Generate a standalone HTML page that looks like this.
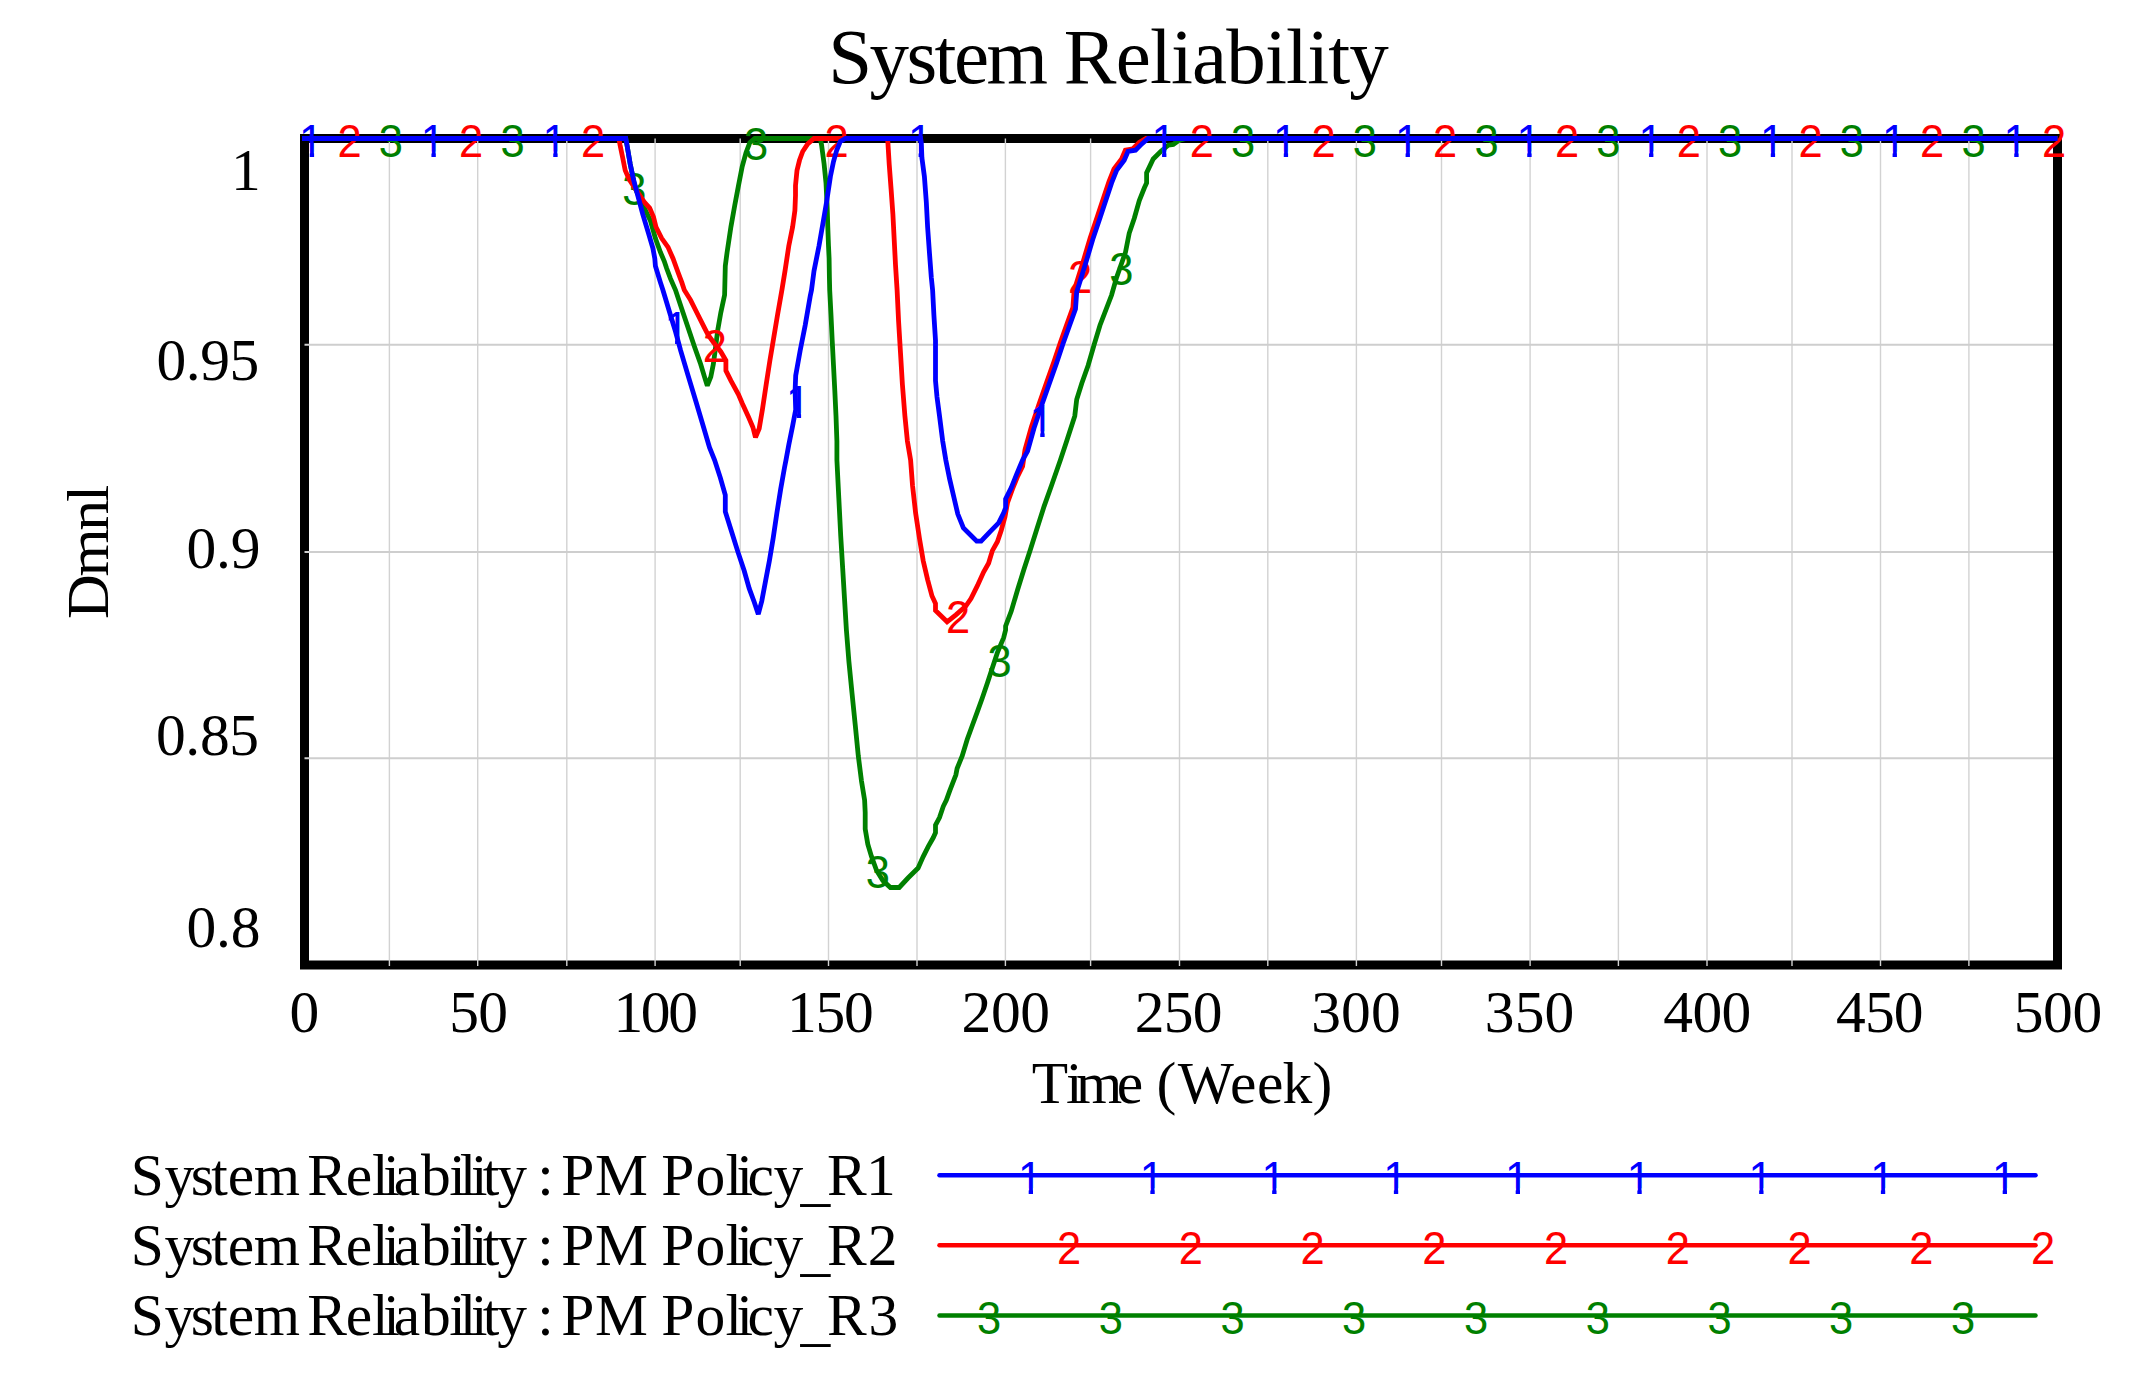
<!DOCTYPE html>
<html lang="en"><head><meta charset="utf-8"><title>System Reliability</title>
<style>html,body{margin:0;padding:0;background:#fff}svg{display:block}.s{font-family:"Liberation Serif",serif;fill:#000}.m{font-family:"Liberation Sans",sans-serif;font-size:45.8px;text-anchor:middle}.c{fill:none;stroke-width:4.8;stroke-linejoin:miter;stroke-miterlimit:1.5;stroke-linecap:butt}</style></head><body>
<svg width="2146" height="1390" viewBox="0 0 2146 1390">
<rect width="2146" height="1390" fill="#fff"/>
<rect x="304.5" y="138.5" width="1753.0" height="826.5" fill="none" stroke="#000" stroke-width="9" stroke-linejoin="miter"/>
<g stroke="#d2d2d2" stroke-width="1.4">
<line x1="389.4" y1="138.5" x2="389.4" y2="966.0"/>
<line x1="477.7" y1="138.5" x2="477.7" y2="966.0"/>
<line x1="566.8" y1="138.5" x2="566.8" y2="966.0"/>
<line x1="655.1" y1="138.5" x2="655.1" y2="966.0"/>
<line x1="740.2" y1="138.5" x2="740.2" y2="966.0"/>
<line x1="828.5" y1="138.5" x2="828.5" y2="966.0"/>
<line x1="917.0" y1="138.5" x2="917.0" y2="966.0"/>
<line x1="1005.4" y1="138.5" x2="1005.4" y2="966.0"/>
<line x1="1090.6" y1="138.5" x2="1090.6" y2="966.0"/>
<line x1="1179.5" y1="138.5" x2="1179.5" y2="966.0"/>
<line x1="1267.8" y1="138.5" x2="1267.8" y2="966.0"/>
<line x1="1356.4" y1="138.5" x2="1356.4" y2="966.0"/>
<line x1="1441.5" y1="138.5" x2="1441.5" y2="966.0"/>
<line x1="1530.1" y1="138.5" x2="1530.1" y2="966.0"/>
<line x1="1618.4" y1="138.5" x2="1618.4" y2="966.0"/>
<line x1="1707.0" y1="138.5" x2="1707.0" y2="966.0"/>
<line x1="1792.0" y1="138.5" x2="1792.0" y2="966.0"/>
<line x1="1880.5" y1="138.5" x2="1880.5" y2="966.0"/>
<line x1="1968.9" y1="138.5" x2="1968.9" y2="966.0"/>
</g>
<g stroke="#cecece" stroke-width="2">
<line x1="304.5" y1="344.7" x2="2053.0" y2="344.7"/>
<line x1="304.5" y1="552.0" x2="2053.0" y2="552.0"/>
<line x1="304.5" y1="758.2" x2="2053.0" y2="758.2"/>
</g>
<text class="s" x="828.20" y="83.0" font-size="79" textLength="219.68" lengthAdjust="spacing">System</text>
<text class="s" x="1063.80" y="83.0" font-size="79" textLength="325.07" lengthAdjust="spacing">Reliability</text>
<text class="s" x="289.60" y="1032.4" font-size="59.5">0</text>
<text class="s" x="449.30" y="1032.4" font-size="59.5" textLength="58.67" lengthAdjust="spacing">50</text>
<text class="s" x="613.40" y="1032.4" font-size="59.5" textLength="84.56" lengthAdjust="spacing">100</text>
<text class="s" x="787.00" y="1032.4" font-size="59.5" textLength="86.79" lengthAdjust="spacing">150</text>
<text class="s" x="961.60" y="1032.4" font-size="59.5" textLength="88.49" lengthAdjust="spacing">200</text>
<text class="s" x="1134.70" y="1032.4" font-size="59.5" textLength="87.68" lengthAdjust="spacing">250</text>
<text class="s" x="1311.20" y="1032.4" font-size="59.5" textLength="89.49" lengthAdjust="spacing">300</text>
<text class="s" x="1484.80" y="1032.4" font-size="59.5" textLength="89.49" lengthAdjust="spacing">350</text>
<text class="s" x="1663.30" y="1032.4" font-size="59.5" textLength="87.90" lengthAdjust="spacing">400</text>
<text class="s" x="1836.00" y="1032.4" font-size="59.5" textLength="87.50" lengthAdjust="spacing">450</text>
<text class="s" x="2013.70" y="1032.4" font-size="59.5" textLength="88.48" lengthAdjust="spacing">500</text>
<text class="s" x="231.00" y="190.3" font-size="59.5">1</text>
<text class="s" x="156.50" y="379.5" font-size="59.5" textLength="102.78" lengthAdjust="spacing">0.95</text>
<text class="s" x="186.50" y="567.5" font-size="59.5" textLength="74.00" lengthAdjust="spacing">0.9</text>
<text class="s" x="155.90" y="754.5" font-size="59.5" textLength="103.19" lengthAdjust="spacing">0.85</text>
<text class="s" x="186.50" y="947.1" font-size="59.5" textLength="74.00" lengthAdjust="spacing">0.8</text>
<text class="s" font-size="59.5" x="130.7 164.4 190.7 211.3 227.8 253.7 299.9 307.2 345.8 372.0 383.3 393.7 421.1 449.3 459.8 471.1 482.8 497.3 527.0 537.2 553.7 561.3 595.1 648.0 661.2 695.6 725.6 736.4 747.6 773.4 800.5 827.1 866.0" y="1195.0 1195.0 1195.0 1195.0 1195.0 1195.0 1195.0 1195.0 1195.0 1195.0 1195.0 1195.0 1195.0 1195.0 1195.0 1195.0 1195.0 1195.0 1195.0 1195.0 1195.0 1195.0 1195.0 1195.0 1195.0 1195.0 1195.0 1195.0 1195.0 1195.0 1199.0 1195.0 1195.0">System Reliability : PM Policy_R1</text>
<text class="s" font-size="59.5" x="130.7 164.4 190.7 211.3 227.8 253.7 299.9 307.2 345.8 372.0 383.3 393.7 421.1 449.3 459.8 471.1 482.8 497.3 527.0 537.2 553.7 561.3 595.1 648.0 661.2 695.6 725.6 736.4 747.6 773.4 800.5 827.1 867.7" y="1265.0 1265.0 1265.0 1265.0 1265.0 1265.0 1265.0 1265.0 1265.0 1265.0 1265.0 1265.0 1265.0 1265.0 1265.0 1265.0 1265.0 1265.0 1265.0 1265.0 1265.0 1265.0 1265.0 1265.0 1265.0 1265.0 1265.0 1265.0 1265.0 1265.0 1269.0 1265.0 1265.0">System Reliability : PM Policy_R2</text>
<text class="s" font-size="59.5" x="130.7 164.4 190.7 211.3 227.8 253.7 299.9 307.2 345.8 372.0 383.3 393.7 421.1 449.3 459.8 471.1 482.8 497.3 527.0 537.2 553.7 561.3 595.1 648.0 661.2 695.6 725.6 736.4 747.6 773.4 800.5 827.1 868.5" y="1335.0 1335.0 1335.0 1335.0 1335.0 1335.0 1335.0 1335.0 1335.0 1335.0 1335.0 1335.0 1335.0 1335.0 1335.0 1335.0 1335.0 1335.0 1335.0 1335.0 1335.0 1335.0 1335.0 1335.0 1335.0 1335.0 1335.0 1335.0 1335.0 1335.0 1339.0 1335.0 1335.0">System Reliability : PM Policy_R3</text>
<text class="s" font-size="59.5" x="1031.7 1065.9 1076.0 1116.8 1143.2 1156.4 1177.7 1230.0 1256.9 1282.4 1312.6" y="1102.9">Time (Week)</text>
<text class="s" font-size="59.5" textLength="129.08" lengthAdjust="spacing" transform="translate(107.8,619.0) rotate(-90) scale(1.04,1)">Dmnl</text>
<defs><clipPath id="k1"><path d="M-20,-40H20V-5.50H3.07V2H-1.51V-5.50H-20Z"/></clipPath></defs>
<path class="c" stroke="#008000" d="M304.5,138.5 L625.8,138.5 L627.0,145.2 L630.2,164.0 L633.4,179.2 L634.6,187.0 L642.0,203.0 L650.4,220.7 L655.4,238.3 L660.4,252.2 L664.2,261.0 L666.7,268.5 L670.5,278.6 L675.5,290.0 L681.8,308.9 L688.1,327.8 L694.4,346.6 L700.7,364.3 L704.5,376.9 L707.3,385.7 L710.8,376.9 L713.3,364.3 L715.2,350.4 L717.7,330.3 L720.8,312.7 L724.6,295.0 L725.3,266.0 L727.1,252.2 L730.9,227.0 L734.7,205.6 L738.5,185.5 L742.2,166.6 L746.0,152.7 L749.8,142.7 L754.8,138.5 L820.3,138.5 L821.6,145.2 L824.1,164.0 L826.0,182.9 L827.2,208.1 L827.8,227.0 L828.5,245.9 L829.1,258.5 L829.4,277.4 L829.7,290.0 L831.0,315.2 L832.2,340.4 L833.5,365.5 L834.8,390.7 L836.0,415.9 L836.9,441.1 L836.9,460.0 L838.8,497.8 L840.7,535.5 L842.6,567.0 L844.5,598.5 L846.4,630.0 L848.9,661.5 L852.0,692.9 L855.2,724.4 L858.3,755.9 L861.5,781.1 L864.6,800.0 L865.2,812.6 L865.2,829.0 L867.8,844.1 L871.5,856.6 L876.6,870.5 L882.9,880.6 L890.4,887.5 L899.2,887.5 L908.0,878.0 L918.1,868.0 L923.2,856.6 L928.2,846.6 L933.2,837.8 L935.5,832.7 L935.5,825.2 L939.5,817.6 L943.3,806.3 L946.4,800.0 L949.6,791.1 L955.9,774.8 L957.1,768.5 L962.2,755.9 L967.2,739.5 L972.2,725.7 L977.3,711.8 L982.3,698.0 L987.4,682.9 L992.4,667.8 L997.4,652.7 L1003.7,637.6 L1005.6,630.0 L1005.6,626.2 L1011.3,611.1 L1017.6,589.7 L1023.9,569.5 L1030.1,550.6 L1036.4,530.5 L1044.0,506.6 L1051.6,485.2 L1060.4,460.0 L1066.7,441.1 L1074.8,415.9 L1076.7,399.5 L1081.8,383.2 L1088.1,365.5 L1094.3,344.1 L1100.0,325.2 L1111.6,295.0 L1116.6,277.4 L1125.5,252.2 L1129.2,233.3 L1134.3,218.2 L1139.3,200.6 L1144.3,188.0 L1146.6,182.9 L1146.6,172.9 L1153.2,159.0 L1160.7,151.5 L1168.3,145.2 L1173.3,144.5 L1178.3,140.8 L1185.9,138.5 L2057.5,138.5"/>
<g class="m" fill="#008000">
<g transform="translate(390.8,156.9) scale(0.95,1)"><text>3</text></g>
<g transform="translate(512.5,156.9) scale(0.95,1)"><text>3</text></g>
<g transform="translate(634.3,204.5) scale(0.95,1)"><text>3</text></g>
<g transform="translate(756.0,159.8) scale(0.95,1)"><text>3</text></g>
<g transform="translate(877.8,887.6) scale(0.95,1)"><text>3</text></g>
<g transform="translate(999.5,676.8) scale(0.95,1)"><text>3</text></g>
<g transform="translate(1121.3,285.1) scale(0.95,1)"><text>3</text></g>
<g transform="translate(1243.0,156.9) scale(0.95,1)"><text>3</text></g>
<g transform="translate(1364.8,156.9) scale(0.95,1)"><text>3</text></g>
<g transform="translate(1486.5,156.9) scale(0.95,1)"><text>3</text></g>
<g transform="translate(1608.3,156.9) scale(0.95,1)"><text>3</text></g>
<g transform="translate(1730.0,156.9) scale(0.95,1)"><text>3</text></g>
<g transform="translate(1851.8,156.9) scale(0.95,1)"><text>3</text></g>
<g transform="translate(1973.5,156.9) scale(0.95,1)"><text>3</text></g>
</g>
<path class="c" stroke="#ff0000" d="M304.5,138.5 L618.9,138.5 L620.1,145.2 L622.7,157.8 L625.2,170.4 L629.0,179.2 L634.6,187.6 L644.1,201.8 L649.7,208.1 L653.5,216.9 L656.0,227.0 L661.7,238.3 L668.0,247.1 L673.0,258.5 L678.0,272.3 L681.8,282.4 L684.3,290.0 L690.6,300.1 L696.9,312.7 L704.5,327.8 L708.3,335.3 L714.0,343.0 L720.8,351.7 L725.9,360.5 L725.9,370.6 L730.9,380.6 L738.5,394.5 L742.2,403.3 L748.5,417.1 L752.9,427.2 L755.5,437.3 L759.2,428.5 L762.4,409.6 L766.2,384.4 L769.9,360.5 L773.7,337.8 L777.5,315.2 L781.9,290.0 L785.0,271.0 L788.8,245.9 L792.6,227.0 L794.9,210.6 L795.5,195.5 L795.5,185.5 L797.0,170.4 L799.5,160.3 L802.7,151.5 L807.7,143.9 L814.0,138.5 L887.5,138.5 L887.9,142.7 L889.2,164.1 L891.1,189.2 L892.9,214.4 L894.2,239.6 L895.5,264.8 L897.1,290.0 L898.6,321.5 L900.5,352.9 L902.4,384.4 L904.9,415.9 L907.4,441.1 L910.6,460.0 L912.5,485.2 L915.6,512.9 L919.4,538.0 L923.2,560.7 L927.6,579.6 L932.0,596.0 L935.5,603.5 L935.5,610.4 L947.1,621.8 L955.9,614.8 L965.9,606.0 L971.0,598.5 L977.3,585.9 L983.6,572.0 L988.6,563.2 L992.4,550.6 L997.4,541.8 L1001.2,530.5 L1005.0,516.6 L1007.5,502.8 L1012.5,488.9 L1017.6,476.4 L1022.6,466.3 L1025.0,449.7 L1031.3,427.1 L1038.9,404.4 L1046.4,383.0 L1054.0,361.6 L1060.3,342.7 L1066.6,325.1 L1072.9,307.6 L1074.1,290.6 L1082.6,263.4 L1090.1,238.2 L1097.7,215.5 L1104.0,196.6 L1109.0,181.5 L1114.0,169.0 L1121.6,158.9 L1125.4,150.1 L1132.9,148.8 L1139.2,142.5 L1146.0,138.5 L2057.5,138.5"/>
<g class="m" fill="#ff0000">
<g transform="translate(349.5,156.9) scale(0.95,1)"><text>2</text></g>
<g transform="translate(471.2,156.9) scale(0.95,1)"><text>2</text></g>
<g transform="translate(593.0,156.9) scale(0.95,1)"><text>2</text></g>
<g transform="translate(714.8,362.4) scale(0.95,1)"><text>2</text></g>
<g transform="translate(836.5,156.9) scale(0.95,1)"><text>2</text></g>
<g transform="translate(958.2,633.1) scale(0.95,1)"><text>2</text></g>
<g transform="translate(1080.0,292.5) scale(0.95,1)"><text>2</text></g>
<g transform="translate(1201.8,156.9) scale(0.95,1)"><text>2</text></g>
<g transform="translate(1323.5,156.9) scale(0.95,1)"><text>2</text></g>
<g transform="translate(1445.2,156.9) scale(0.95,1)"><text>2</text></g>
<g transform="translate(1567.0,156.9) scale(0.95,1)"><text>2</text></g>
<g transform="translate(1688.8,156.9) scale(0.95,1)"><text>2</text></g>
<g transform="translate(1810.5,156.9) scale(0.95,1)"><text>2</text></g>
<g transform="translate(1932.2,156.9) scale(0.95,1)"><text>2</text></g>
<g transform="translate(2054.0,156.9) scale(0.95,1)"><text>2</text></g>
</g>
<path class="c" stroke="#0000ff" d="M302.0,138.5 L625.8,138.5 L627.0,145.2 L630.2,164.0 L633.4,179.2 L637.8,195.5 L642.8,214.4 L648.5,233.3 L652.9,248.4 L654.8,258.5 L655.4,266.0 L660.4,282.4 L662.9,290.0 L670.5,315.2 L675.5,331.5 L680.6,350.4 L688.1,375.6 L695.7,400.8 L703.2,426.0 L709.5,447.4 L714.6,460.0 L720.3,477.6 L725.3,495.2 L725.3,511.6 L731.6,531.8 L737.9,551.9 L744.2,570.8 L749.2,588.4 L754.3,602.2 L758.3,614.2 L761.8,601.0 L765.6,580.8 L769.4,560.7 L773.2,538.0 L776.9,512.9 L780.7,489.0 L784.5,467.6 L786.0,460.0 L788.8,444.8 L792.6,426.0 L795.7,409.6 L795.1,390.7 L795.7,375.6 L800.2,350.4 L805.2,325.2 L810.2,296.3 L811.5,290.0 L814.0,271.0 L819.0,245.9 L823.4,220.7 L826.6,201.8 L830.4,176.6 L833.5,161.5 L836.7,150.2 L840.4,141.4 L845.5,138.5 L920.6,138.5 L921.3,142.7 L921.9,157.8 L924.4,176.6 L926.3,201.8 L927.6,227.0 L929.4,252.2 L931.3,277.4 L932.6,290.0 L933.9,315.2 L935.5,340.4 L935.5,380.6 L937.0,397.0 L939.5,415.9 L942.7,441.1 L945.8,460.0 L949.6,478.9 L954.0,497.8 L957.8,514.1 L963.4,528.0 L971.0,535.5 L976.7,541.2 L981.1,541.2 L989.9,531.8 L998.7,522.9 L1003.7,512.9 L1005.6,507.8 L1005.6,499.0 L1011.3,487.7 L1016.3,475.1 L1022.6,460.0 L1027.6,451.1 L1033.9,428.5 L1041.5,405.8 L1049.0,384.4 L1056.6,363.0 L1062.9,344.1 L1069.2,326.5 L1075.5,309.0 L1076.7,292.0 L1085.2,264.8 L1092.7,239.6 L1100.3,216.9 L1106.6,198.0 L1111.6,182.9 L1116.6,170.4 L1124.2,160.3 L1128.0,151.5 L1135.5,150.2 L1141.8,143.9 L1148.1,138.5 L2057.5,138.5"/>
<g class="m" fill="#0000ff">
<g transform="translate(311.2,156.9) scale(0.95,1)" clip-path="url(#k1)"><text>1</text></g>
<g transform="translate(432.9,156.9) scale(0.95,1)" clip-path="url(#k1)"><text>1</text></g>
<g transform="translate(554.7,156.9) scale(0.95,1)" clip-path="url(#k1)"><text>1</text></g>
<g transform="translate(676.5,344.1) scale(0.95,1)" clip-path="url(#k1)"><text>1</text></g>
<g transform="translate(798.2,418.4) scale(0.95,1)" clip-path="url(#k1)"><text>1</text></g>
<g transform="translate(920.0,156.9) scale(0.95,1)" clip-path="url(#k1)"><text>1</text></g>
<g transform="translate(1041.7,436.7) scale(0.95,1)" clip-path="url(#k1)"><text>1</text></g>
<g transform="translate(1163.5,156.9) scale(0.95,1)" clip-path="url(#k1)"><text>1</text></g>
<g transform="translate(1285.2,156.9) scale(0.95,1)" clip-path="url(#k1)"><text>1</text></g>
<g transform="translate(1407.0,156.9) scale(0.95,1)" clip-path="url(#k1)"><text>1</text></g>
<g transform="translate(1528.7,156.9) scale(0.95,1)" clip-path="url(#k1)"><text>1</text></g>
<g transform="translate(1650.5,156.9) scale(0.95,1)" clip-path="url(#k1)"><text>1</text></g>
<g transform="translate(1772.2,156.9) scale(0.95,1)" clip-path="url(#k1)"><text>1</text></g>
<g transform="translate(1894.0,156.9) scale(0.95,1)" clip-path="url(#k1)"><text>1</text></g>
<g transform="translate(2015.7,156.9) scale(0.95,1)" clip-path="url(#k1)"><text>1</text></g>
</g>
<line x1="939.5" y1="1175.3" x2="2035.5" y2="1175.3" stroke="#0000ff" stroke-width="4.5" stroke-linecap="round"/>
<g class="m" fill="#0000ff">
<g transform="translate(1030.1,1193.7) scale(0.95,1)" clip-path="url(#k1)"><text>1</text></g>
<g transform="translate(1151.8,1193.7) scale(0.95,1)" clip-path="url(#k1)"><text>1</text></g>
<g transform="translate(1273.6,1193.7) scale(0.95,1)" clip-path="url(#k1)"><text>1</text></g>
<g transform="translate(1395.3,1193.7) scale(0.95,1)" clip-path="url(#k1)"><text>1</text></g>
<g transform="translate(1517.1,1193.7) scale(0.95,1)" clip-path="url(#k1)"><text>1</text></g>
<g transform="translate(1638.8,1193.7) scale(0.95,1)" clip-path="url(#k1)"><text>1</text></g>
<g transform="translate(1760.6,1193.7) scale(0.95,1)" clip-path="url(#k1)"><text>1</text></g>
<g transform="translate(1882.3,1193.7) scale(0.95,1)" clip-path="url(#k1)"><text>1</text></g>
<g transform="translate(2004.1,1193.7) scale(0.95,1)" clip-path="url(#k1)"><text>1</text></g>
</g>
<line x1="939.5" y1="1245.2" x2="2035.5" y2="1245.2" stroke="#ff0000" stroke-width="4.5" stroke-linecap="round"/>
<g class="m" fill="#ff0000">
<g transform="translate(1069.1,1263.6) scale(0.95,1)"><text>2</text></g>
<g transform="translate(1190.8,1263.6) scale(0.95,1)"><text>2</text></g>
<g transform="translate(1312.6,1263.6) scale(0.95,1)"><text>2</text></g>
<g transform="translate(1434.3,1263.6) scale(0.95,1)"><text>2</text></g>
<g transform="translate(1556.1,1263.6) scale(0.95,1)"><text>2</text></g>
<g transform="translate(1677.8,1263.6) scale(0.95,1)"><text>2</text></g>
<g transform="translate(1799.6,1263.6) scale(0.95,1)"><text>2</text></g>
<g transform="translate(1921.3,1263.6) scale(0.95,1)"><text>2</text></g>
<g transform="translate(2043.1,1263.6) scale(0.95,1)"><text>2</text></g>
</g>
<line x1="939.5" y1="1315.4" x2="2035.5" y2="1315.4" stroke="#008000" stroke-width="4.5" stroke-linecap="round"/>
<g class="m" fill="#008000">
<g transform="translate(989.0,1333.8) scale(0.95,1)"><text>3</text></g>
<g transform="translate(1110.8,1333.8) scale(0.95,1)"><text>3</text></g>
<g transform="translate(1232.5,1333.8) scale(0.95,1)"><text>3</text></g>
<g transform="translate(1354.2,1333.8) scale(0.95,1)"><text>3</text></g>
<g transform="translate(1476.0,1333.8) scale(0.95,1)"><text>3</text></g>
<g transform="translate(1597.8,1333.8) scale(0.95,1)"><text>3</text></g>
<g transform="translate(1719.5,1333.8) scale(0.95,1)"><text>3</text></g>
<g transform="translate(1841.2,1333.8) scale(0.95,1)"><text>3</text></g>
<g transform="translate(1963.0,1333.8) scale(0.95,1)"><text>3</text></g>
</g>
</svg></body></html>
